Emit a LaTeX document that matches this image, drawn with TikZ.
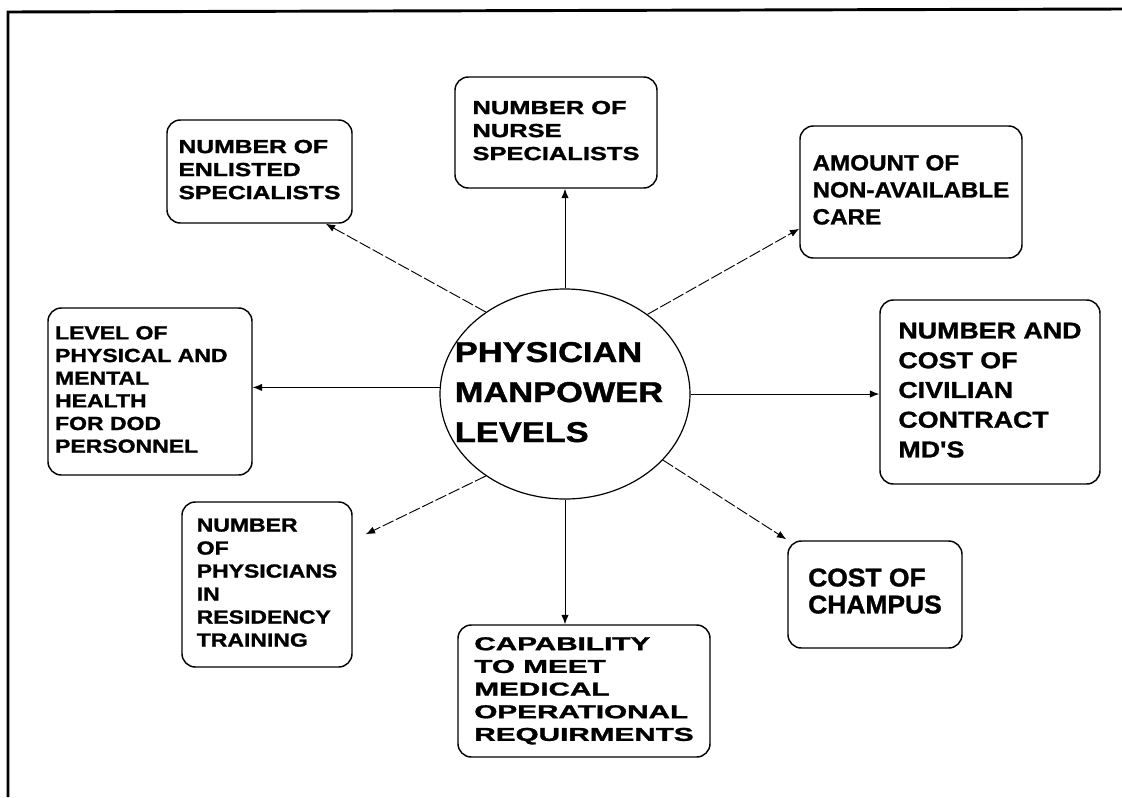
\documentclass[tikz,border=0pt]{standalone}
\usepackage{fontspec}
\setmainfont{Liberation Sans}[BoldFeatures={FakeBold=1.2}]
\usepackage{graphicx}
\usetikzlibrary{shapes.geometric,arrows.meta,calc}
\newcommand{\boxtext}[4]{\scalebox{#1}[1]{\fontsize{#2}{#3}\selectfont\bfseries\begin{tabular}{@{}l@{}}#4\end{tabular}}}
\tikzset{
  bx/.style={draw, rounded corners=10pt, line width=1.1pt, inner sep=0pt, align=center},
  arr/.style={-{Latex[length=7pt,width=5.5pt]}, line width=0.7pt},
  dsh/.style={dash pattern=on 9pt off 2pt},
  frame/.style={line width=2.2pt}
}
\begin{document}
\begin{tikzpicture}[x=0.75pt,y=-0.75pt]
\useasboundingbox (0,0) rectangle (1122,797);
\draw[frame] (8,797) -- (8,12) -- (1122,9);

\node[draw, ellipse, line width=0.9pt, minimum width=187.5pt, minimum height=157.5pt, inner sep=0pt] (c) at (565,394) {};
\node (ct) at (559,394) {\boxtext{1.2}{21.5}{30}{PHYSICIAN\\MANPOWER\\LEVELS}};

\node[bx, minimum width=138.75pt, minimum height=77.25pt] (enl) at (259.5,171.5)
  {\boxtext{1.3}{14.25}{17.25}{NUMBER OF\\ENLISTED\\SPECIALISTS}};
\node[bx, minimum width=151.5pt, minimum height=83.25pt] (nur) at (556,132.5)
  {\boxtext{1.34}{14.25}{17.25}{NUMBER OF\\NURSE\\SPECIALISTS}};
\node[bx, minimum width=166.5pt, minimum height=99pt] (amt) at (911,192)
  {\boxtext{1.1}{16.5}{20.25}{AMOUNT OF\\NON-AVAILABLE\\CARE}};
\node[bx, minimum width=153pt, minimum height=125.25pt] (lev) at (150,391.5)
  {\boxtext{1.21}{14.25}{17}{LEVEL OF\\PHYSICAL AND\\MENTAL\\HEALTH\\FOR DOD\\PERSONNEL}\hspace*{13pt}};
\node[bx, minimum width=165pt, minimum height=138pt] (num) at (990,392)
  {\boxtext{1.165}{17.25}{22.3}{NUMBER AND\\COST OF\\CIVILIAN\\CONTRACT\\MD\textquotesingle S}};
\node[bx, minimum width=130.5pt, minimum height=80.25pt] (cha) at (875,594.5)
  {\boxtext{1.03}{19.25}{20.25}{COST OF\\CHAMPUS}};
\node[bx, minimum width=127.5pt, minimum height=123.75pt] (res) at (267,584.5)
  {\boxtext{1.21}{14.25}{17.25}{NUMBER\\OF\\PHYSICIANS\\IN\\RESIDENCY\\TRAINING}};
\node[bx, minimum width=189pt, minimum height=99pt] (cap) at (584,691)
  {\boxtext{1.59}{14}{17}{CAPABILITY\\TO MEET\\MEDICAL\\OPERATIONAL\\REQUIRMENTS}};

\draw[arr] (c.north) -- (c.north |- nur.south);
\draw[arr,dsh] (c.134) -- ($(enl.south east)+(-27,0)$);
\draw[arr,dsh] (c.44) -- ($(amt.south west)+(0,-30)$);
\draw[arr] (c.east) -- (c.east -| num.west);
\draw[arr,dsh] (c.-34) -- ($(cha.north west)+(-1,-1)$);
\draw[arr] (c.south) -- (c.south |- cap.north);
\draw[arr,dsh] (c.226) -- ($(res.north east)+(13,33)$);
\draw[arr] (c.177) -- (c.177 -| lev.east);
\end{tikzpicture}
\end{document}
